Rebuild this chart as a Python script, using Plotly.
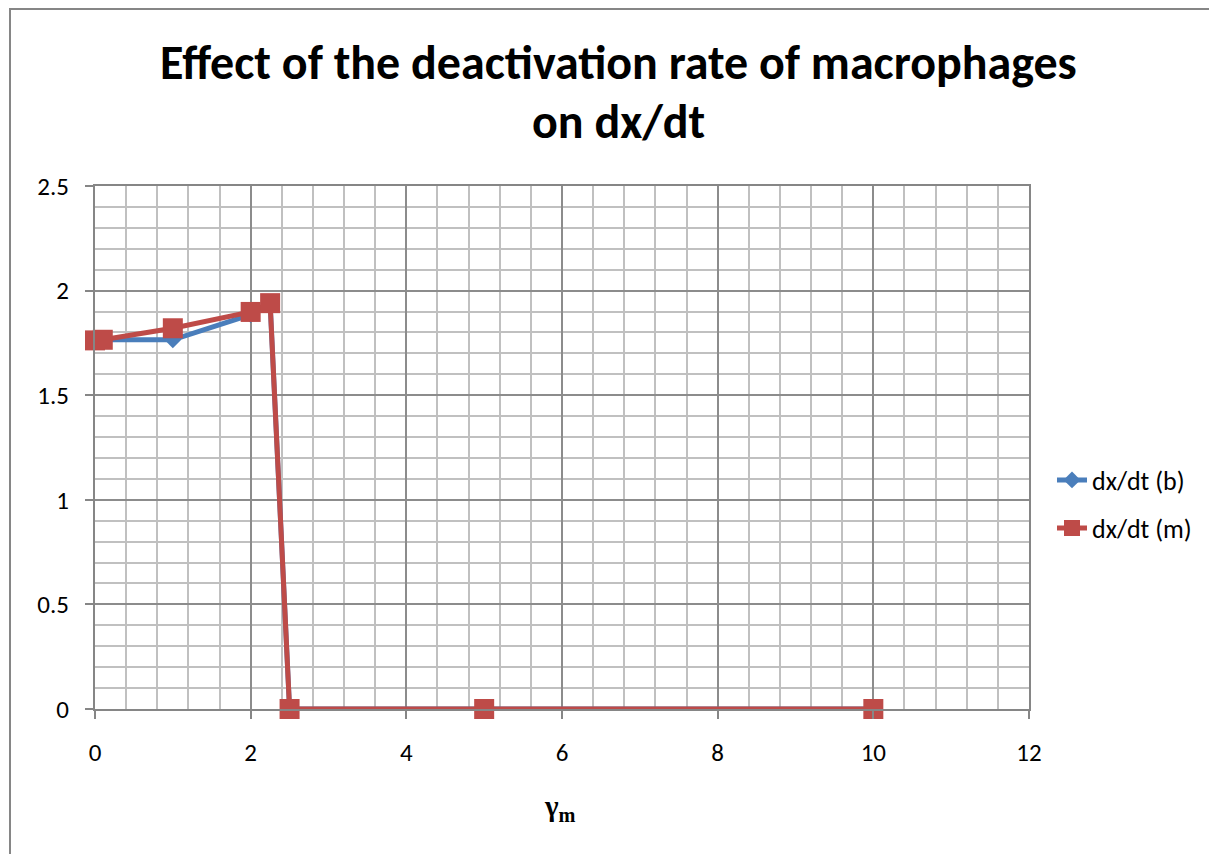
import plotly.graph_objects as go

x_vals = [0, 0.1, 1, 2, 2.25, 2.5, 5, 10]
dxdt_b = [1.762, 1.765, 1.765, 1.885, 1.94, 0, 0, 0]
dxdt_m = [1.762, 1.765, 1.82, 1.898, 1.94, 0, 0, 0]
x_ticks = [0, 2, 4, 6, 8, 10, 12]
y_ticks = [0, 0.5, 1, 1.5, 2, 2.5]
y_tick_text = ["0", "0.5", "1", "1.5", "2", "2.5"]
title_lines = ["Effect of the deactivation rate of macrophages", "on dx/dt"]

# page is offset by the 8px body margin
OFF = 8
W, H = 1217 - OFF, 854 - OFF
L, T = 95 - OFF, 186 - OFF
pw, ph = 934, 523
R, B = W - L - pw, H - T - ph

def px(xp):
    return (xp - OFF - L) / pw

def py(yp):
    return (H - B - (yp - OFF)) / ph

FONT = "Calibri, Carlito, Open Sans, Lato, sans-serif"

fig = go.Figure()
fig.add_trace(go.Scatter(
    x=x_vals, y=dxdt_b, name="dx/dt (b)", mode="lines+markers",
    line=dict(color="#4a7ebb", width=5),
    marker=dict(symbol="diamond", size=13, color="#4a7ebb"),
    legend="legend", cliponaxis=False,
))
fig.add_trace(go.Scatter(
    x=x_vals, y=dxdt_m, name="dx/dt (m)", mode="lines+markers",
    line=dict(color="#be4b48", width=5),
    marker=dict(symbol="square", size=20, color="#be4b48"),
    legend="legend2", cliponaxis=False,
))

axis_common = dict(
    showgrid=True, gridcolor="#8c8c8c", gridwidth=1.5,
    showline=True, linecolor="#868686", linewidth=2, mirror=True,
    ticks="outside", ticklen=8, tickcolor="#868686", tickwidth=1.5,
    zeroline=False, tickfont=dict(size=25, family=FONT, color="black"),
)

fig.update_layout(
    width=W, height=H,
    margin=dict(l=L, r=R, t=T, b=B),
    paper_bgcolor="white", plot_bgcolor="white",
    font=dict(family=FONT, size=25, color="black"),
    xaxis=dict(
        range=[0, 12], tickvals=x_ticks, ticktext=[str(v) for v in x_ticks],
        minor=dict(dtick=0.4, showgrid=True, gridcolor="#c0c0c0", gridwidth=1.5),
        ticklabelstandoff=12,
        **axis_common,
    ),
    yaxis=dict(
        range=[0, 2.5], tickvals=y_ticks, ticktext=y_tick_text,
        minor=dict(dtick=0.1, showgrid=True, gridcolor="#c0c0c0", gridwidth=1.5),
        ticklabelstandoff=11,
        **axis_common,
    ),
    legend=dict(
        x=px(1052), y=py(480), xanchor="left", yanchor="middle",
        font=dict(size=26, family=FONT), bgcolor="rgba(0,0,0,0)",
    ),
    legend2=dict(
        x=px(1052), y=py(528), xanchor="left", yanchor="middle",
        font=dict(size=26, family=FONT), bgcolor="rgba(0,0,0,0)",
    ),
    showlegend=True,
)

fig.add_annotation(text="<b>" + title_lines[0] + "</b>", xref="paper", yref="paper",
                   x=px(618), y=py(62), xanchor="center", yanchor="middle",
                   showarrow=False, font=dict(family=FONT, size=48, color="black"))
fig.add_annotation(text="<b>" + title_lines[1] + "</b>", xref="paper", yref="paper",
                   x=px(618), y=py(122), xanchor="center", yanchor="middle",
                   showarrow=False, font=dict(family=FONT, size=48, color="black"))
fig.add_annotation(text="<b>γ<sub>m</sub></b>", xref="paper", yref="paper",
                   x=px(560), y=py(808), xanchor="center", yanchor="middle",
                   showarrow=False,
                   font=dict(family="Liberation Serif, serif", size=29, color="black"))

fig.add_shape(type="rect", xref="paper", yref="paper",
              x0=px(10), x1=px(1240), y0=py(9), y1=py(880),
              line=dict(color="#868686", width=2), layer="below")

fig.write_html("out.html")
